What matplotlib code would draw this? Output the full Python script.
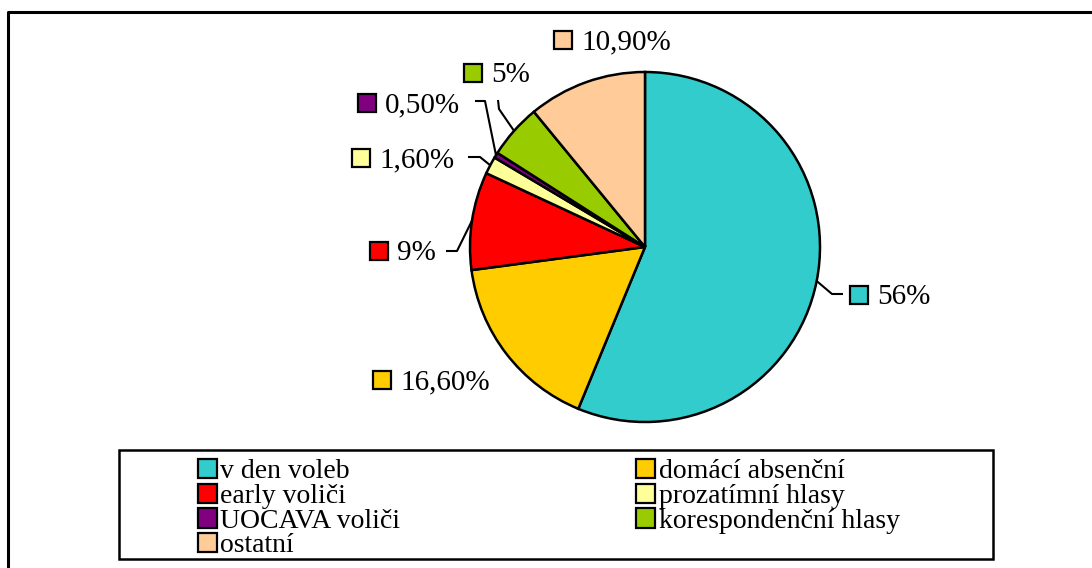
import matplotlib
matplotlib.use("Agg")
import matplotlib.pyplot as plt
from matplotlib.patches import Patch, Rectangle
import numpy as np

plt.rcParams['font.family'] = ['Liberation Serif', 'DejaVu Serif']

# data
categories = ["v den voleb", "domácí absenční", "early voliči", "prozatímní hlasy",
              "UOCAVA voliči", "korespondenční hlasy", "ostatní"]
values = [56, 16.6, 9, 1.6, 0.5, 5, 10.9]
value_labels = ["56%", "16,60%", "9%", "1,60%", "0,50%", "5%", "10,90%"]
colours = ["#33CCCC", "#FFCC00", "#FF0000", "#FFFF99", "#800080", "#99CC00", "#FFCC99"]

# layout (screen pixels, y measured from top)
W, H = 1092, 568
centre = (645, 247)
radius = 175
label_pos = [(859, 295), (382, 380), (379, 251), (361, 158), (367, 103), (473, 73), (563, 40)]
leaders = [[(832, 294), (843, 294)], None, [(457, 251), (446, 251)],
           [(480, 157), (468, 157)], [(485, 101), (475, 101)],
           [(499, 109), (498, 100)], None]

fig = plt.figure(figsize=(W / 100, H / 100), dpi=100)
ax = fig.add_axes([0, 0, 1, 1])

wedges, _ = ax.pie(values, colors=colours, startangle=90, counterclock=False,
                   center=(centre[0], H - centre[1]), radius=radius,
                   wedgeprops=dict(edgecolor='black', linewidth=1.8))

# data labels with little colour keys and leader lines
for w, txt, col, (lx, ly), lead in zip(wedges, value_labels, colours, label_pos, leaders):
    if lead is not None:
        mid = np.deg2rad((w.theta1 + w.theta2) / 2)
        xs = [centre[0] + radius * np.cos(mid)] + [p[0] for p in lead]
        ys = [H - centre[1] + radius * np.sin(mid)] + [H - p[1] for p in lead]
        ax.plot(xs, ys, color='black', lw=1.5, solid_capstyle='butt')
    ax.plot(lx, H - ly, marker='s', ms=12.5, mfc=col, mec='black', mew=1.6)
    ax.text(lx + 18, H - ly - 9.5, txt, fontsize=21, ha='left', va='baseline')

# outer frame (only top and left visible)
ax.plot([8, 8, W + 10], [-10, H - 12, H - 12], color='black', lw=2.2)

# legend box
ax.add_patch(Rectangle((119, H - 559), 874, 109, fill=False, ec='black', lw=1.8))

order = [0, 2, 4, 6, 1, 3, 5]
handles = [Patch(facecolor=colours[i], edgecolor='black', linewidth=1.6) for i in order]
ax.legend(handles, [categories[i] for i in order], ncol=2, loc='upper left',
          bbox_to_anchor=(198 / W, 1 - 459 / H), bbox_transform=fig.transFigure,
          frameon=False, borderpad=0, borderaxespad=0, handlelength=0.68,
          handleheight=0.68, handletextpad=0.12, labelspacing=-0.02,
          columnspacing=8.5, prop={'size': 20})

ax.set_xlim(0, W)
ax.set_ylim(0, H)
ax.set_aspect('equal')
ax.axis('off')

plt.savefig('out.png', dpi=100)
